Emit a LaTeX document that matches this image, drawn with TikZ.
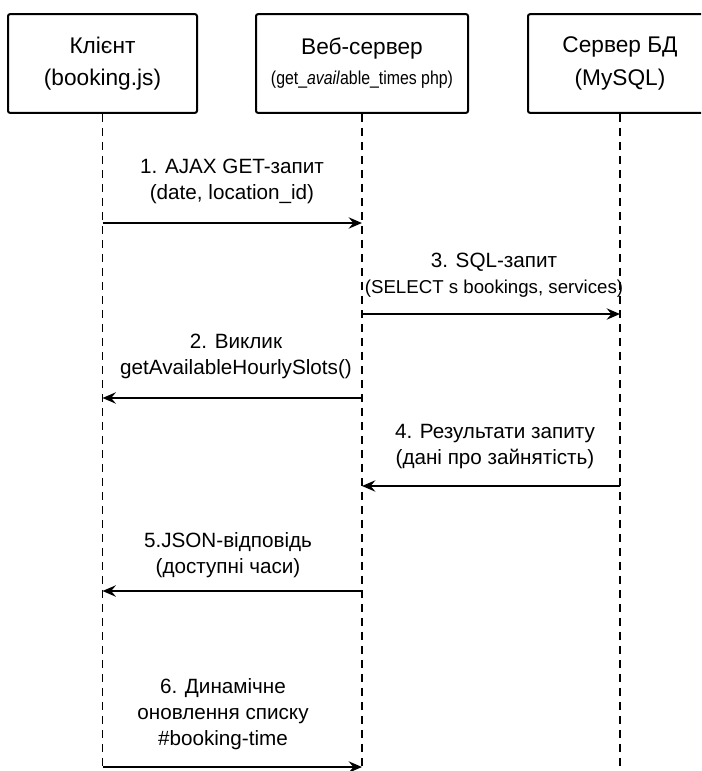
\documentclass[tikz,border=0pt]{standalone}
\usepackage{fontspec}
\setmainfont{Liberation Sans}
\usetikzlibrary{arrows.meta}

\begin{document}
\begin{tikzpicture}[x=0.75pt, y=-0.75pt,
    actor/.style={draw, line width=1.5pt, rounded corners=1.5pt, minimum height=74pt, align=center,
        font=\fontsize{17}{24.5}\selectfont},
    lifeline/.style={line width=1.1pt, dash pattern=on 6pt off 4.5pt},
    msg/.style={line width=1.4pt, -{Stealth[length=10pt, width=8.5pt, inset=3.5pt]}},
    msgtext/.style={align=center, font=\fontsize{15.5}{19.5}\selectfont}
    ]

    \useasboundingbox (0,0) rectangle (701,771);
    \clip (0,0) rectangle (701,771);

    \node[actor, minimum width=141.75pt] (client) at (102.5,63.5) {Клієнт\\(booking.js)};
    \node[actor, minimum width=159pt] (web) at (362,63.5) {Веб-сервер\\[-2pt]{\fontsize{14}{16}\selectfont\scalebox{0.85}[1]{(get\_\textit{avail}able\_times php)}}};
    \node[actor, minimum width=138pt] (db) at (620,63.5) {Сервер БД\\(MySQL)};

    % lifelines
    \foreach \who in {client, web, db}
        \draw[lifeline] (\who.south) -- (\who.south |- 0,771);

    % messages
    \draw[msg] (client |- 0,223) -- (web |- 0,223);
    \node[msgtext] (m1) at (232,181) {1. AJAX GET-запит\\(date, location\_id)};

    \draw[msg] (web |- 0,314) -- (db |- 0,314);
    \node[msgtext] (m3) at (494,275) {3. SQL-запит\\{\fontsize{14}{19.5}\selectfont(SELECT s bookings, services)}};

    \draw[msg] (web |- 0,398) -- (client |- 0,398);
    \node[msgtext] (m2) at (236,356.5) {2. Виклик\\getAvailableHourlySlots()};

    \draw[msg] (db |- 0,486) -- (web |- 0,486);
    \node[msgtext] (m4) at (495,446.5) {4. Результати запиту\\(дані про зайнятість)};

    \draw[msg] (web |- 0,591) -- (client |- 0,591);
    \node[msgtext] (m5) at (228,555) {5.JSON-відповідь\\(доступні часи)};

    \draw[msg] (client |- 0,767) -- (web |- 0,767);
    \node[msgtext] (m6) at (223,714) {6. Динамічне\\оновлення списку\\\#booking-time};
    %
\end{tikzpicture}
\end{document}
